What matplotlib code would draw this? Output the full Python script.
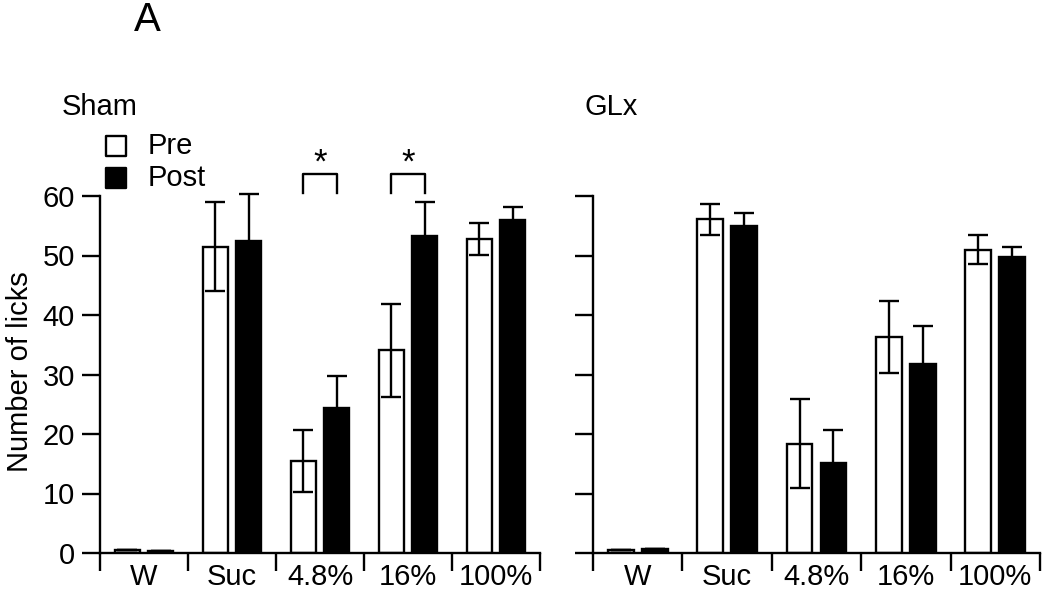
import matplotlib.pyplot as plt
import numpy as np

plt.rcParams['font.family'] = ['Liberation Sans', 'DejaVu Sans']

# Data
categories = ["W", "Suc", "4.8%", "16%", "100%"]
sham_pre = [0.5, 51.5, 15.4, 34.1, 52.8]
sham_pre_err = [0.0, 7.5, 5.2, 7.8, 2.7]
sham_post = [0.3, 52.4, 24.3, 53.2, 56.0]
sham_post_err = [0.0, 7.9, 5.5, 5.8, 2.2]
glx_pre = [0.5, 56.1, 18.4, 36.3, 51.0]
glx_pre_err = [0.0, 2.6, 7.5, 6.0, 2.5]
glx_post = [0.6, 54.9, 15.2, 31.7, 49.8]
glx_post_err = [0.0, 2.2, 5.5, 6.5, 1.7]
sig_groups = [2, 3]  # Sham: 4.8% and 16%

fs = 21
lw = 1.7
w = 0.29
off = 0.19
ytop = 61

fig = plt.figure(figsize=(10.5, 5.92), dpi=100)
h = 357 * ytop / 60
ax1 = fig.add_axes([100/1050, 39/592, 440/1050, h/592])
ax2 = fig.add_axes([593/1050, 39/592, 447/1050, h/592])

x = np.arange(len(categories))


def draw(ax, pre, pre_err, post, post_err):
    ax.bar(x - off, pre, w, color='white', edgecolor='black', linewidth=lw,
           yerr=pre_err, error_kw=dict(ecolor='black', elinewidth=lw,
                                       capsize=7, capthick=lw), zorder=2)
    ax.bar(x + off, post, w, color='black', edgecolor='black', linewidth=lw,
           yerr=post_err, error_kw=dict(ecolor='black', elinewidth=lw,
                                        capsize=7, capthick=lw), zorder=2)
    ax.set_xlim(-0.5, len(categories) - 0.5)
    ax.set_ylim(0, ytop)
    ax.spines['left'].set_bounds(0, 60)
    ax.set_yticks([0, 10, 20, 30, 40, 50, 60])
    ax.set_xticks(x)
    ax.set_xticklabels(categories, fontsize=fs)
    ax.set_xticks(np.arange(-0.5, len(categories)), minor=True)
    ax.tick_params(axis='x', which='major', length=0, pad=7)
    ax.tick_params(axis='x', which='minor', length=13, width=lw)
    ax.tick_params(axis='y', length=13, width=lw, labelsize=fs, pad=5)
    for s in ['top', 'right']:
        ax.spines[s].set_visible(False)
    for s in ['left', 'bottom']:
        ax.spines[s].set_linewidth(lw)


draw(ax1, sham_pre, sham_pre_err, sham_post, sham_post_err)
draw(ax2, glx_pre, glx_pre_err, glx_post, glx_post_err)
ax2.set_yticklabels([])

ax1.set_ylabel("Number of licks", fontsize=fs, labelpad=6)

# significance brackets
for g in sig_groups:
    ax1.plot([g - off, g - off, g + off, g + off], [60.5, 63.7, 63.7, 60.5],
             color='black', lw=lw, clip_on=False)
    ax1.text(g, 62.8, "*", ha='center', va='bottom', fontsize=25)

# legend
ax1.scatter([-0.32], [68.4], marker='s', s=190, facecolor='white',
            edgecolor='black', linewidth=lw, clip_on=False)
ax1.scatter([-0.32], [63.0], marker='s', s=190, facecolor='black',
            edgecolor='black', linewidth=lw, clip_on=False)
ax1.text(0.045, 68.4, "Pre", va='center', fontsize=fs)
ax1.text(0.045, 63.0, "Post", va='center', fontsize=fs)

fig.text(62/1050, 1 - 107/592, "Sham", va='center', fontsize=fs)
fig.text(584/1050, 1 - 107/592, "GLx", va='center', fontsize=fs)
fig.text(147/1050, 1 - 20/592, "A", ha='center', va='center', fontsize=29)

fig.savefig("out.png", dpi=100)
